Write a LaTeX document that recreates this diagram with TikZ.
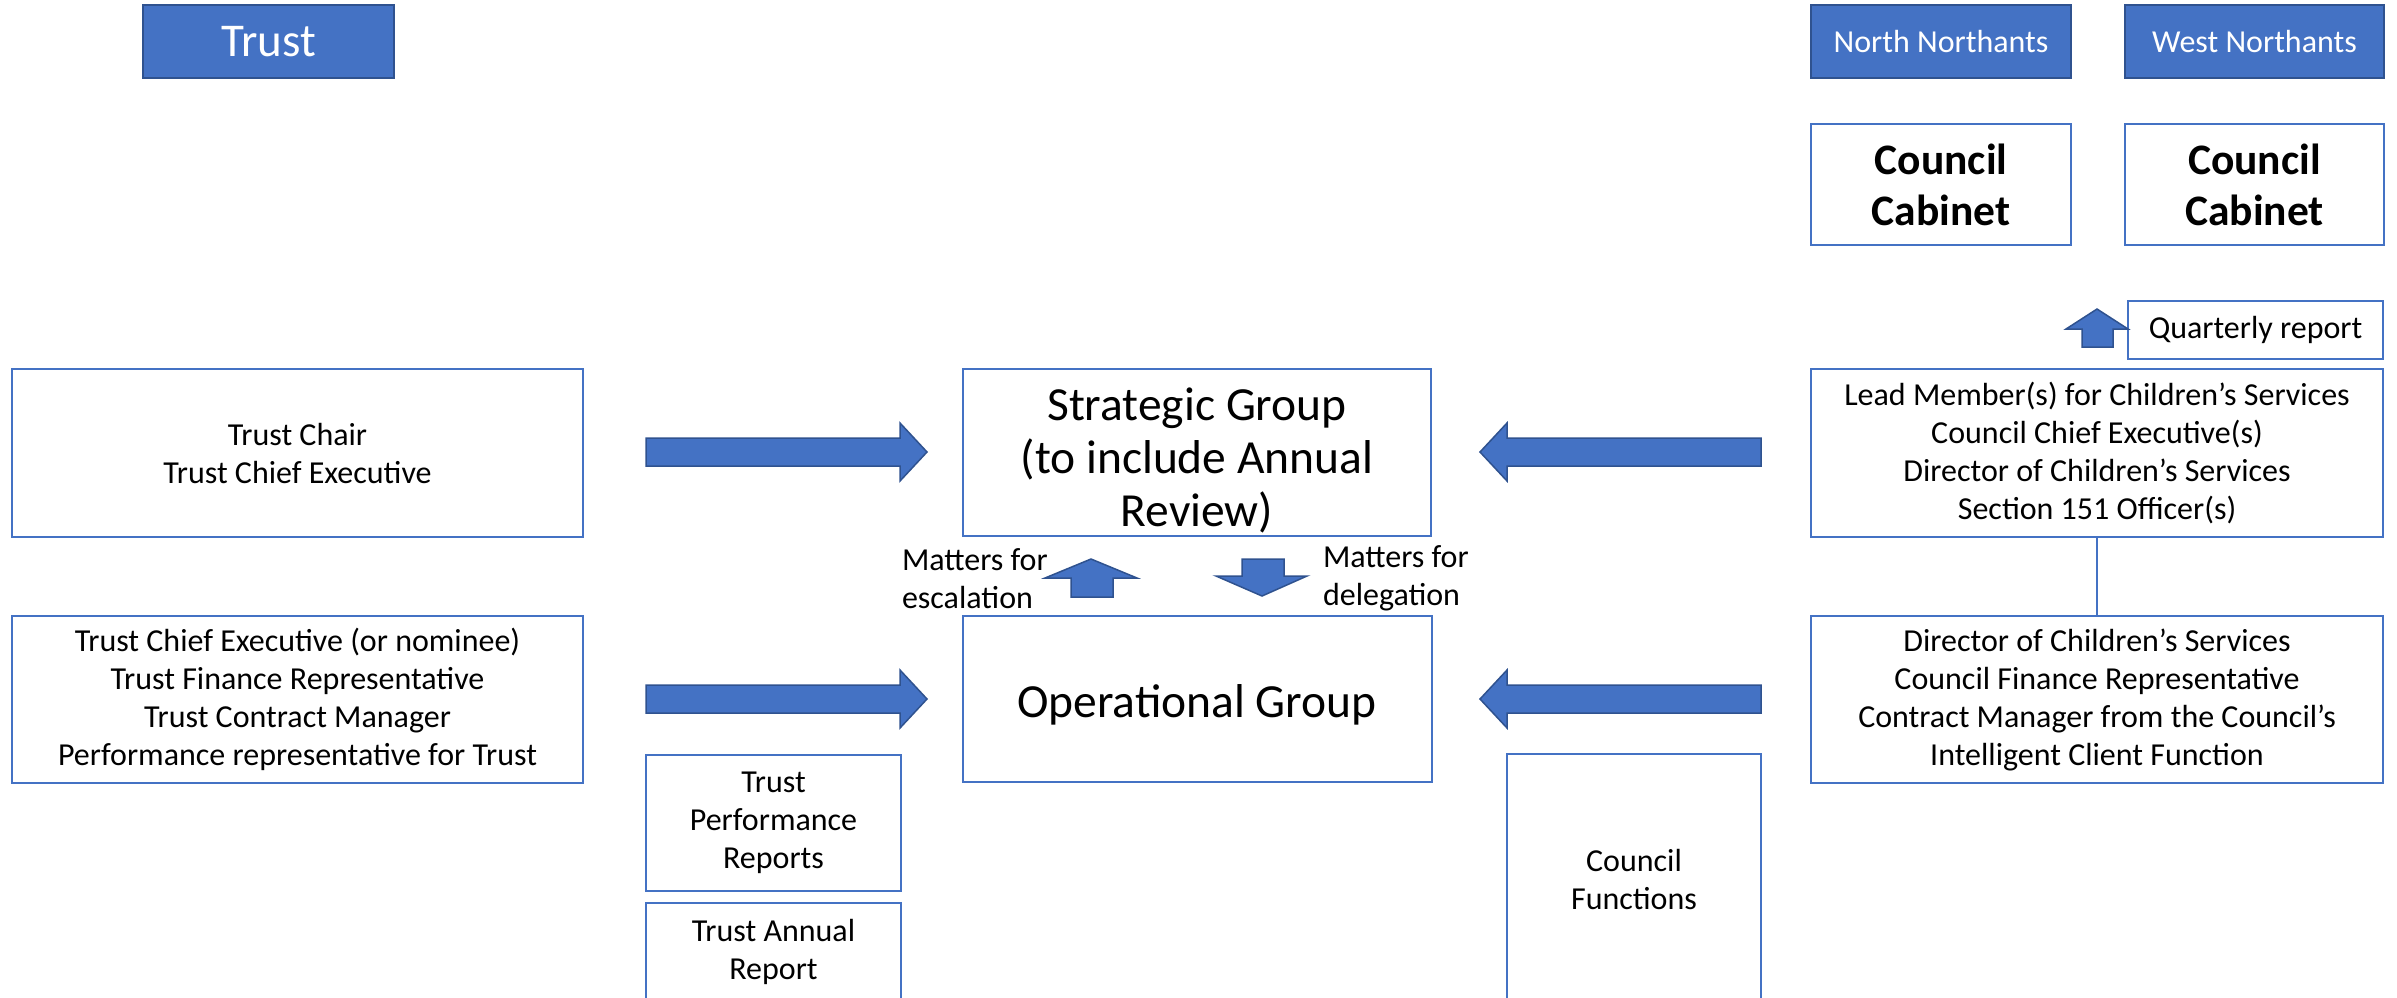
\documentclass[tikz,border=0pt]{standalone}
\usepackage{fontspec}
\setmainfont{Carlito}
\definecolor{boxblue}{HTML}{4472C4}
\definecolor{darkblue}{HTML}{2F528F}
\newcommand{\txtA}{\fontsize{32}{38}\selectfont}
\newcommand{\txtB}{\fontsize{47.5}{53}\selectfont}
\newcommand{\txtC}{\fontsize{47}{52}\selectfont}
\newcommand{\txtD}{\fontsize{43.5}{51}\selectfont\bfseries}
\begin{document}
\begin{tikzpicture}[x=1pt,y=-1pt,
  plainbox/.style={draw=boxblue, line width=2pt, fill=white, inner sep=0pt, outer sep=0pt, align=center, font=\txtA, text=black},
  titlebox/.style={fill=boxblue, draw=darkblue, line width=2pt, inner sep=0pt, outer sep=0pt, align=center, text=white, font=\txtA},
  blockarrow/.style={fill=boxblue, draw=darkblue, line width=1.5pt, line join=miter},
  label/.style={inner sep=0pt, outer sep=0pt, align=left, anchor=west, font=\txtA, text=black},
  bigtext/.style={inner sep=0pt, outer sep=0pt, align=center, font=\txtB, text=black}
  ]
\useasboundingbox (0,0) rectangle (2397,997);
\clip (0,0) rectangle (2397,997);

% title boxes
\node[titlebox, font=\txtC, minimum width=251, minimum height=73] (trust) at (268.5,41.5) {Trust};
\node[titlebox, minimum width=260, minimum height=73] (nn) at (1941,41.5) {North Northants};
\node[titlebox, minimum width=259, minimum height=73] (wn) at (2254.5,41.5) {West Northants};

% council cabinets
\node[plainbox, font=\txtD, minimum width=260, minimum height=121] (cc1) at (1941,184.5) {Council\\Cabinet};
\node[plainbox, font=\txtD, minimum width=259, minimum height=121] (cc2) at (2254.5,184.5) {Council\\Cabinet};

% quarterly report
\node[plainbox, minimum width=255, minimum height=58] (qr) at (2255.5,330) {Quarterly report};
\filldraw[blockarrow] (2082,347) -- (2082,329) -- (2066,329) -- (2097,309) -- (2128,329) -- (2113,329) -- (2113,347) -- cycle;

% left column
\node[plainbox, minimum width=571, minimum height=168] (chair) at (297.5,453) {Trust Chair\\Trust Chief Executive};
\node[plainbox, minimum width=571, minimum height=167] (tce) at (297.5,699.5) {Trust Chief Executive (or nominee)\\Trust Finance Representative\\Trust Contract Manager\\Performance representative for Trust};

% centre
\node[plainbox, minimum width=468, minimum height=167] (strat) at (1197,452.5) {};
\node[bigtext] (strattext) at ([yshift=-8]strat.center) {Strategic Group\\(to include Annual\\Review)};
\node[plainbox, minimum width=469, minimum height=166] (oper) at (1197,699) {};
\node[bigtext] (opertext) at ([yshift=-6]oper.center) {Operational Group};

% right column
\node[plainbox, minimum width=572, minimum height=168] (lead) at (2097,453) {Lead Member(s) for Children’s Services\\Council Chief Executive(s)\\Director of Children’s Services\\Section 151 Officer(s)};
\node[plainbox, minimum width=572, minimum height=167] (dir) at (2097,699.5) {Director of Children’s Services\\Council Finance Representative\\Contract Manager from the Council’s\\Intelligent Client Function};
\draw[boxblue, line width=1.2pt] (lead.south) -- (dir.north);

% lower boxes
\node[plainbox, minimum width=255, minimum height=136] (perf) at (773.5,823) {Trust\\Performance\\Reports};
\node[plainbox, minimum width=255, minimum height=98] (annual) at (773.5,952) {Trust Annual\\Report};
\node[plainbox, minimum width=254, minimum height=250] (cfun) at (1634,879) {Council\\Functions};

% block arrows left to centre
\filldraw[blockarrow] (646,438) -- (900,438) -- (900,423) -- (927,452) -- (900,481) -- (900,466) -- (646,466) -- cycle;
\filldraw[blockarrow] (646,685) -- (900,685) -- (900,670) -- (927,699) -- (900,728) -- (900,713) -- (646,713) -- cycle;
% block arrows right to centre
\filldraw[blockarrow] (1761,438) -- (1507,438) -- (1507,423) -- (1480,452) -- (1507,481) -- (1507,466) -- (1761,466) -- cycle;
\filldraw[blockarrow] (1761,685) -- (1507,685) -- (1507,670) -- (1480,699) -- (1507,728) -- (1507,713) -- (1761,713) -- cycle;

% escalation / delegation
\filldraw[blockarrow] (1071,597) -- (1071,578) -- (1045,578) -- (1091,559) -- (1137,578) -- (1113,578) -- (1113,597) -- cycle;
\filldraw[blockarrow] (1242,559) -- (1242,576) -- (1216,576) -- (1262,596) -- (1307,576) -- (1284,576) -- (1284,559) -- cycle;
\node[label] (esc) at (902,578.5) {Matters for\\escalation};
\node[label] (del) at (1323,578.5) {Matters for\\delegation};
\end{tikzpicture}
\end{document}
